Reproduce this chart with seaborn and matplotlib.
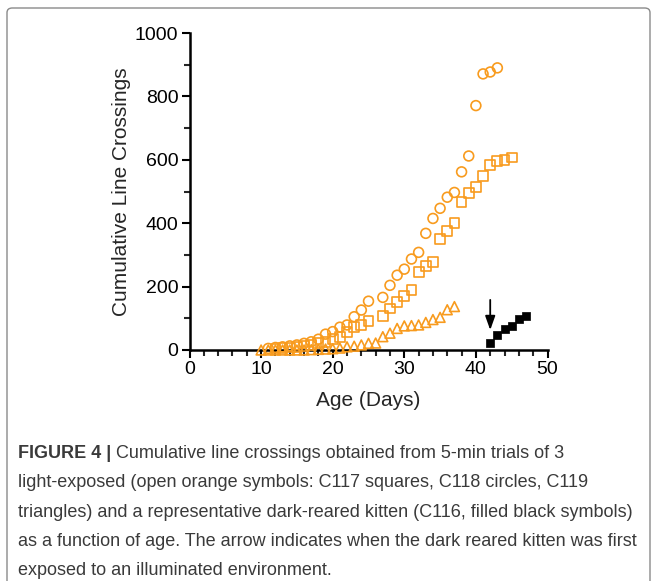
import numpy as np
import pandas as pd
import matplotlib
matplotlib.use("Agg")
import matplotlib.pyplot as plt
import seaborn as sns
from matplotlib.patches import FancyBboxPatch
from matplotlib.ticker import MultipleLocator

# ---- data ----
c117_days = list(range(12, 26)) + list(range(27, 46))          # squares
c117_vals = [5, 6, 8, 10, 13, 16, 21, 26, 34, 40, 57, 72, 78, 92,
             106, 131, 152, 170, 189, 247, 264, 278, 349, 375, 400, 468,
             496, 514, 549, 584, 597, 600, 607]
c118_days = list(range(11, 26)) + list(range(27, 44))          # circles
c118_vals = [5, 8, 10, 13, 16, 21, 26, 34, 50, 58, 72, 79, 105, 126, 154,
             166, 204, 236, 255, 287, 308, 368, 415, 447, 482, 497, 562,
             612, 771, 871, 877, 890]
c119_days = list(range(10, 38))                                 # triangles
c119_vals = [0, 0, 0, 0, 0, 0, 0, 1, 2, 3, 4, 6, 10, 12, 16, 21, 22, 42,
             53, 68, 76, 77, 79, 87, 96, 103, 127, 137]
c116_days = [42, 43, 44, 45, 46, 47]                            # dark reared
c116_vals = [22, 48, 65, 75, 97, 108]
arrow_day = 42
arrow_from, arrow_to = 158, 63

x_ticks = [0, 10, 20, 30, 40, 50]
y_ticks = [0, 200, 400, 600, 800, 1000]

caption_bold = "FIGURE 4 | "
caption_lines = [
    "Cumulative line crossings obtained from 5-min trials of 3",
    "light-exposed (open orange symbols: C117 squares, C118 circles, C119",
    "triangles) and a representative dark-reared kitten (C116, filled black symbols)",
    "as a function of age. The arrow indicates when the dark reared kitten was first",
    "exposed to an illuminated environment.",
]

ORANGE = "#F89B1E"

sns.set_theme(style="ticks")
plt.rcParams["font.family"] = ["Liberation Sans", "DejaVu Sans"]

fig = plt.figure(figsize=(6.57, 5.81), dpi=100)
W, H = 657, 581
ax = fig.add_axes([189.5 / W, 1 - 350 / H, 358 / W, 317 / H])

def df(d, v):
    return pd.DataFrame({"Age": d, "Crossings": v})

sns.scatterplot(data=df(c118_days, c118_vals), x="Age", y="Crossings", ax=ax,
                marker="o", s=50, facecolors="none", edgecolor=ORANGE,
                linewidth=1.2, clip_on=False, zorder=3)
sns.scatterplot(data=df(c117_days, c117_vals), x="Age", y="Crossings", ax=ax,
                marker="s", s=50, facecolors="none", edgecolor=ORANGE,
                linewidth=1.2, clip_on=False, zorder=3)
sns.scatterplot(data=df(c119_days, c119_vals), x="Age", y="Crossings", ax=ax,
                marker="^", s=50, facecolors="none", edgecolor=ORANGE,
                linewidth=1.2, clip_on=False, zorder=3)
sns.scatterplot(data=df(c116_days, c116_vals), x="Age", y="Crossings", ax=ax,
                marker="s", s=34, color="black", edgecolor="black",
                linewidth=0.5, clip_on=False, zorder=4)

ax.annotate("", xy=(arrow_day, arrow_to), xytext=(arrow_day, arrow_from),
            arrowprops=dict(arrowstyle="-|>,head_length=0.7,head_width=0.25",
                            color="black", lw=1.3, shrinkA=0, shrinkB=0))

ax.set_xlim(0, 50)
ax.set_ylim(0, 1000)
ax.set_xticks(x_ticks)
ax.set_yticks(y_ticks)
ax.xaxis.set_minor_locator(MultipleLocator(2))
ax.yaxis.set_minor_locator(MultipleLocator(100))
ax.tick_params(which="major", length=6, width=1.5, labelsize=14, pad=2,
               colors="black")
ax.tick_params(which="minor", length=4, width=1.5)
for s in ["top", "right"]:
    ax.spines[s].set_visible(False)
for s in ["left", "bottom"]:
    ax.spines[s].set_linewidth(1.8)
    ax.spines[s].set_color("black")
ax.set_xlabel("Age (Days)", fontsize=15, labelpad=9)
ax.set_ylabel("Cumulative Line Crossings", fontsize=15, labelpad=3)

# border box (bottom edge lies below the image, as in the reference)
box = FancyBboxPatch((7 / W, -10 / H), 643 / W, 583 / H,
                     boxstyle="round,pad=0,rounding_size=0.008",
                     transform=fig.transFigure, facecolor="none",
                     edgecolor="#8a8a8a", linewidth=1.0)
fig.patches.append(box)

# caption
cap_color = "#3a3a3a"
cap_size = 13
x0 = 18 / W
base0 = 458
step = 29.3
t = fig.text(x0, 1 - base0 / H, caption_bold, fontsize=cap_size,
             fontweight="bold", color=cap_color, va="baseline")
fig.canvas.draw()
bb = t.get_window_extent(renderer=fig.canvas.get_renderer())
for i, ln in enumerate(caption_lines):
    xx = bb.x1 / W if i == 0 else x0
    fig.text(xx, 1 - (base0 + step * i) / H, ln, fontsize=cap_size,
             color=cap_color, va="baseline")

fig.savefig("out.png", dpi=100)
